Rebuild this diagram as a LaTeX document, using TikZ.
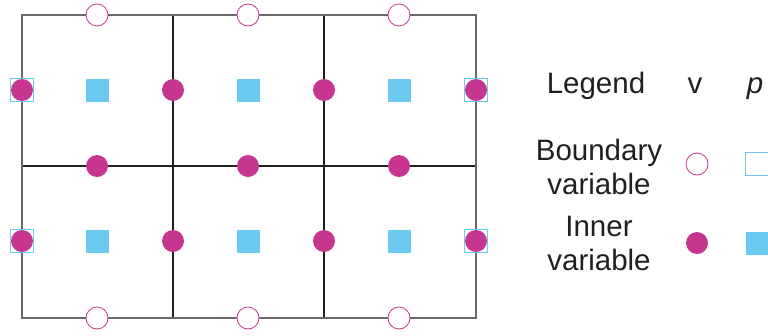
\documentclass[tikz,border=0pt]{standalone}
\usepackage{fontspec}
\setmainfont{Liberation Sans}
\usetikzlibrary{positioning}
\definecolor{mymagenta}{RGB}{198,54,145}
\definecolor{myblue}{RGB}{108,201,240}
\definecolor{mygray}{RGB}{105,105,105}
\definecolor{mydark}{RGB}{35,31,32}
\tikzset{
  vinner/.style={circle, fill=mymagenta, minimum size=22pt, inner sep=0pt},
  vbound/.style={circle, draw=mymagenta, fill=white, minimum size=22pt,
    inner sep=0pt, line width=0.8pt},
  pinner/.style={rectangle, fill=myblue, minimum size=23pt, inner sep=0pt},
  pbound/.style={rectangle, draw=myblue, fill=white, minimum size=23pt,
    inner sep=0pt, line width=0.8pt},
  gridout/.style={line width=1.5pt, color=mygray},
  gridin/.style={line width=1.5pt, color=mydark},
  legtext/.style={font=\fontsize{29.5}{34}\selectfont, align=center,
    text=mydark, inner sep=0pt}
}

\begin{document}
\begin{tikzpicture}[x=1pt, y=-1pt]
  \useasboundingbox (0,0) rectangle (768,335);

  % Grid corners
  \foreach \i/\x in {0/22, 1/173, 2/324, 3/476}
    \foreach \j/\y in {0/15, 1/166, 2/318}
      \coordinate (c\i\j) at (\x,\y);

  % Grid lines
  \draw[gridin] (c10) -- (c12);
  \draw[gridin] (c20) -- (c22);
  \draw[gridin] (c01) -- (c31);
  \draw[gridout] (c00) rectangle (c32);

  % Boundary p on left and right edges
  \foreach \x in {22, 476}
    \foreach \y in {90, 241}
      \node[pbound] (pb-\x-\y) at (\x,\y) {};

  % Boundary v on top and bottom edges
  \foreach \x in {97, 248, 399}
    \foreach \y in {15, 318}
      \node[vbound] (vb-\x-\y) at (\x,\y) {};

  % Inner v on vertical edges
  \foreach \x in {22, 173, 324, 476}
    \foreach \y in {90, 241}
      \node[vinner] (vv-\x-\y) at (\x,\y) {};

  % Inner v on middle horizontal edge
  \foreach \x in {97, 248, 399}
    \node[vinner] (vh-\x) at (\x,166) {};

  % Inner p at cell centres
  \foreach \x in {97, 248, 399}
    \foreach \y in {90, 241}
      \node[pinner] (pc-\x-\y) at (\x,\y) {};

  % Legend
  \node[legtext, anchor=base] (legend) at (596,93) {Legend};
  \node[legtext, anchor=base] (legv) at (695,93) {v};
  \node[legtext, anchor=base] (legp) at (755,93) {\itshape p};
  \node[legtext, anchor=north] (bndtext) at (599,139) {Boundary\\variable};
  \node[legtext, anchor=north] (inntext) at (599,216) {Inner\\variable};
  \node[vbound] (legvb) at (697,164) {};
  \node[pbound] (legpb) at (757,164) {};
  \node[vinner] (legvi) at (697,243) {};
  \node[pinner] (legpi) at (757,243) {};
\end{tikzpicture}
\end{document}
